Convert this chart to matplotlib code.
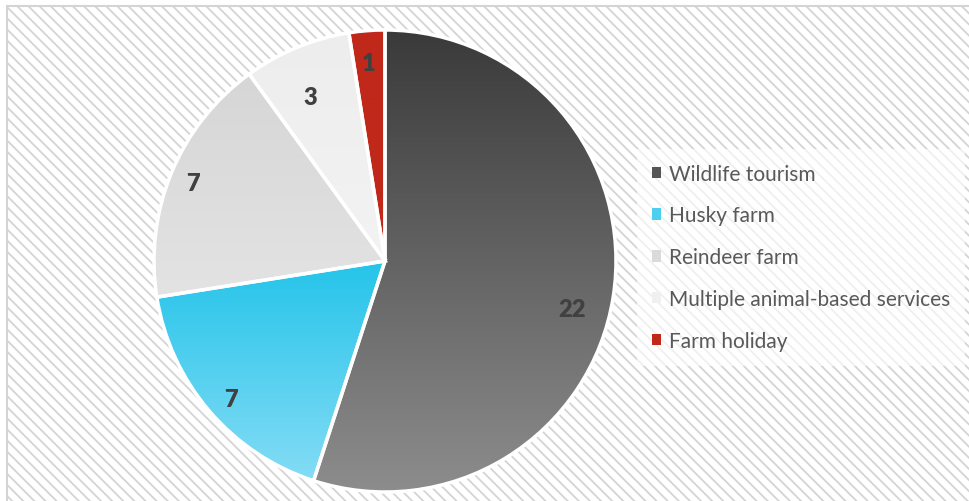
"""
Pie chart of animal-based tourism service types.
"""

import matplotlib.pyplot as plt
import numpy as np
from matplotlib.colors import LinearSegmentedColormap
from matplotlib.patches import Patch, Rectangle

categories = [
    "Wildlife tourism",
    "Husky farm",
    "Reindeer farm",
    "Multiple animal-based services",
    "Farm holiday",
]
counts = [22, 7, 7, 3, 1]

# top / bottom gradient colours for each slice
top_colors = ["#3a3a3a", "#25c4ea", "#d6d6d6", "#ededed", "#c0281a"]
bottom_colors = ["#8d8d8d", "#84dcf5", "#e3e3e3", "#f3f3f3", "#c0281a"]
legend_colors = ["#555555", "#4dd0ee", "#dadada", "#f0f0f0", "#c0281a"]

# data label placement (fraction of radius, angle in degrees), "best fit" style
label_radius = [0.836, 0.895, 0.897, 0.78, 0.86]
label_angle = [-14.4, 221.9, 157.9, 114.6, 94.6]

plt.rcParams["font.family"] = ["Lato", "DejaVu Sans"]

W, H = 970, 502
fig = plt.figure(figsize=(W / 100, H / 100), dpi=100)
fig.patch.set_facecolor("white")
plt.rcParams["hatch.linewidth"] = 1.3
plt.rcParams["hatch.color"] = "#e4e4e4"

# hatched chart background with a thin border
bg = Rectangle(
    (7 / W, -0.05),
    1.1,
    (H - 7) / H + 0.05,
    transform=fig.transFigure,
    facecolor="white",
    edgecolor="#d4d4d4",
    hatch="\\\\\\",
    linewidth=1.5,
    zorder=-5,
)
fig.patches.append(bg)

cx, cy, r = 385, H - 262, 231
ax = fig.add_axes([(cx - r) / W, (cy - r) / H, 2 * r / W, 2 * r / H])
ax.set_facecolor("none")
ax.set_zorder(1)

wedges, _ = ax.pie(
    counts,
    startangle=90,
    counterclock=False,
    colors=legend_colors,
    wedgeprops=dict(edgecolor="white", linewidth=2.5),
)

for w, c0, c1 in zip(wedges, top_colors, bottom_colors):
    path = w.get_path()
    ys = path.vertices[:, 1]
    y_lo, y_hi = ys.min(), ys.max()
    cmap = LinearSegmentedColormap.from_list("g", [c1, c0])
    grad = np.linspace(0, 1, 256).reshape(-1, 1)
    im = ax.imshow(
        grad,
        cmap=cmap,
        extent=(-1.05, 1.05, y_lo, y_hi),
        origin="lower",
        aspect="auto",
        zorder=w.get_zorder() - 0.1,
    )
    im.set_clip_path(w)
    w.set_facecolor("none")

for n, rad, ang in zip(counts, label_radius, label_angle):
    a = np.deg2rad(ang)
    ax.text(
        rad * np.cos(a),
        rad * np.sin(a),
        str(n),
        ha="center",
        va="center",
        fontsize=17,
        fontweight="heavy",
        color="#404040",
        zorder=5,
    )

ax.set_xlim(-1, 1)
ax.set_ylim(-1, 1)
ax.axis("off")

handles = [Patch(facecolor=c, edgecolor="none") for c in legend_colors]
leg = fig.legend(
    handles,
    categories,
    loc="upper left",
    bbox_to_anchor=(637 / W, (H - 150) / H),
    frameon=True,
    fontsize=15,
    labelcolor="#595959",
    handlelength=0.45,
    handleheight=0.45,
    handletextpad=0.4,
    labelspacing=1.05,
    borderpad=0.7,
    borderaxespad=0,
    fancybox=False,
)
frame = leg.get_frame()
frame.set_facecolor("white")
frame.set_alpha(0.65)
frame.set_edgecolor("none")

fig.savefig("out.png", dpi=100)
